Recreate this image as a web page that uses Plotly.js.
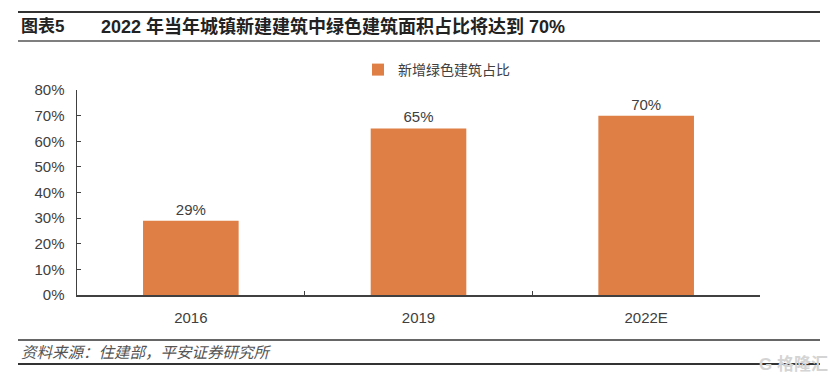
<!DOCTYPE html>
<html>
<head>
<meta charset="utf-8">
<script src="https://cdn.plot.ly/plotly-3.0.1.min.js"></script>
<style>html,body{margin:0;padding:0;background:#fff;}#chart{width:832px;height:378px;}</style>
</head>
<body>
<div id="chart"></div>
<script>
const categories = ['2016', '2019', '2022E'];
const greenShare = [0.29, 0.65, 0.70];
const seriesName = '新增绿色建筑占比';
const yTickVals = [0, 0.1, 0.2, 0.3, 0.4, 0.5, 0.6, 0.7, 0.8];
const yTickText = ['0%', '10%', '20%', '30%', '40%', '50%', '60%', '70%', '80%'];

const L = 77, R = 760, T = 90, B = 295, W = 832, H = 378;
const px = x => (x - L) / (R - L);
const py = y => (B - y) / (B - T);

const textColor = '#404040';
const font = "Liberation Sans, Arial, 'Noto Sans CJK SC', sans-serif";
const cjk = "'Liberation Sans', 'Noto Sans CJK SC', sans-serif";

const trace = {
  type: 'bar',
  x: categories,
  y: greenShare,
  name: seriesName,
  marker: {color: '#E07F45'},
  text: greenShare.map(v => Math.round(v * 100) + '%'),
  textposition: 'outside',
  textfont: {family: font, size: 15, color: textColor},
  cliponaxis: false,
  showlegend: true,
  hoverinfo: 'skip'
};

const layout = {
  width: W, height: H,
  margin: {l: L, r: W - R, t: T, b: H - B, pad: 0},
  paper_bgcolor: '#fff', plot_bgcolor: '#fff',
  bargap: 0.58,
  font: {family: font, color: textColor, size: 15},
  showlegend: true,
  legend: {
    orientation: 'h', x: px(358), y: py(70), xanchor: 'left', yanchor: 'middle',
    font: {family: cjk, size: 14, color: textColor},
    itemwidth: 30, bgcolor: 'rgba(0,0,0,0)'
  },
  xaxis: {
    type: 'category', showline: true, linecolor: textColor, linewidth: 1.5,
    ticks: 'inside', tickson: 'boundaries', ticklen: 4, tickcolor: textColor,
    tickfont: {family: font, size: 15, color: textColor}, showgrid: false, zeroline: false,
    ticklabelstandoff: 8, fixedrange: true
  },
  yaxis: {
    range: [0, 0.8], tickvals: yTickVals, ticktext: yTickText,
    showline: true, linecolor: textColor, linewidth: 1.5,
    ticks: 'inside', ticklen: 4, tickcolor: textColor,
    tickfont: {family: font, size: 15, color: textColor},
    showgrid: false, zeroline: false, ticklabelstandoff: 8, fixedrange: true
  },
  shapes: [
    {type: 'line', xref: 'paper', yref: 'paper', x0: px(18), x1: px(820), y0: py(12), y1: py(12), line: {color: '#333', width: 2}},
    {type: 'line', xref: 'paper', yref: 'paper', x0: px(18), x1: px(820), y0: py(41), y1: py(41), line: {color: '#555', width: 1.5}},
    {type: 'line', xref: 'paper', yref: 'paper', x0: px(18), x1: px(820), y0: py(340), y1: py(340), line: {color: '#333', width: 1.5}},
    {type: 'line', xref: 'paper', yref: 'paper', x0: px(18), x1: px(820), y0: py(364), y1: py(364), line: {color: '#333', width: 2}}
  ],
  annotations: [
    {xref: 'paper', yref: 'paper', x: px(19), y: py(27), xanchor: 'left', yanchor: 'middle', showarrow: false,
     text: '<b>图表5</b>', font: {family: cjk, size: 17, color: '#222'}},
    {xref: 'paper', yref: 'paper', x: px(99), y: py(27), xanchor: 'left', yanchor: 'middle', showarrow: false,
     text: '<b>2022 年当年城镇新建建筑中绿色建筑面积占比将达到 70%</b>', font: {family: cjk, size: 18, color: '#222'}},
    {xref: 'paper', yref: 'paper', x: px(19), y: py(352), xanchor: 'left', yanchor: 'middle', showarrow: false,
     text: '<i>资料来源：住建部，平安证券研究所</i>', font: {family: cjk, size: 15.5, color: '#555'}},
    {xref: 'paper', yref: 'paper', x: px(830), y: py(364), xanchor: 'right', yanchor: 'middle', showarrow: false,
     text: '<b>G 格隆汇</b>', font: {family: cjk, size: 17, color: '#d4d4d4'}}
  ]
};

Plotly.newPlot('chart', [trace], layout, {displayModeBar: false, staticPlot: true});
</script>
</body>
</html>
